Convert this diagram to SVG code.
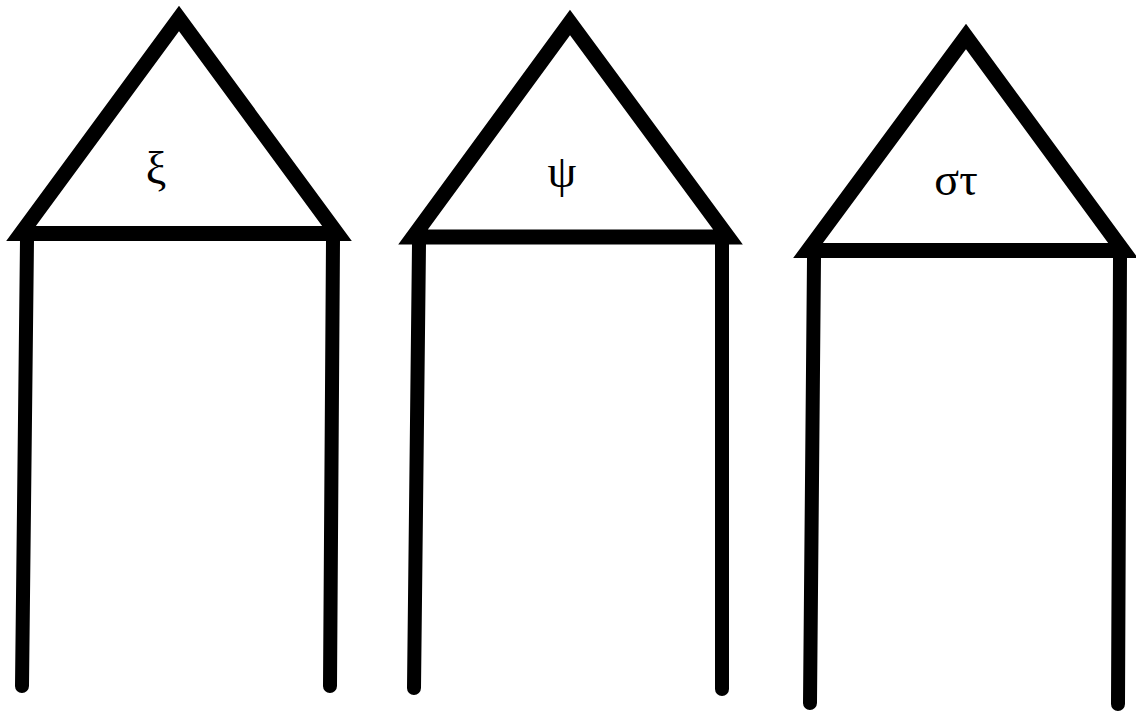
<svg xmlns="http://www.w3.org/2000/svg" width="1136" height="712" viewBox="0 0 1136 712">
<style>
.roof{fill:none;stroke:#000;stroke-width:15;stroke-linejoin:miter;stroke-miterlimit:10}
.leg{fill:none;stroke:#000;stroke-width:14;stroke-linecap:round}
.lbl{font-family:"Liberation Serif","DejaVu Serif",serif;font-size:46px;fill:#000;text-anchor:middle}
</style>
<rect width="1136" height="712" fill="#fff"/>
<g id="house1">
<polygon class="roof" points="179,18.5 21,233.5 337,233.5"/>
<line class="leg" x1="27" y1="240" x2="22" y2="686"/>
<line class="leg" x1="333" y1="240" x2="330" y2="686"/>
<text class="lbl" x="156" y="184">ξ</text>
</g>
<g id="house2">
<polygon class="roof" points="570,22.5 413,237 728,237"/>
<line class="leg" x1="419" y1="244" x2="414" y2="688"/>
<line class="leg" x1="722" y1="244" x2="722" y2="689"/>
<text class="lbl" x="562" y="187">ψ</text>
</g>
<g id="house3">
<polygon class="roof" points="966,36.5 808,250.5 1123,250.5"/>
<line class="leg" x1="814" y1="258" x2="810" y2="703"/>
<line class="leg" x1="1120" y1="258" x2="1118" y2="704"/>
<text class="lbl" x="956" y="195">στ</text>
</g>
<g id="connectors"></g>
</svg>
